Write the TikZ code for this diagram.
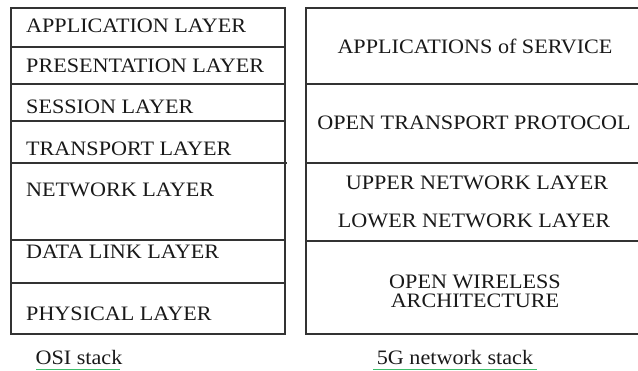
\documentclass[tikz,border=0pt]{standalone}
\usepackage{fontspec}
\setmainfont{Liberation Serif}[FakeStretch=1.08]
\definecolor{rule}{HTML}{333333}
\definecolor{uline}{HTML}{3DBE6A}
\tikzset{
  boxline/.style={draw=rule, line width=1.2pt},
  lefttxt/.style={anchor=west, inner sep=0pt, font=\fontsize{20.5}{24}\selectfont, text=black!90},
  ctrtxt/.style={anchor=center, inner sep=0pt, font=\fontsize{20.5}{24}\selectfont, text=black!90, align=center},
  captxt/.style={anchor=center, inner sep=0pt, font=\fontsize{20.5}{24}\selectfont, text=black!90},
  uln/.style={draw=uline, line width=1.3pt}
}
\begin{document}
\begin{tikzpicture}[x=1pt,y=-1pt]
\useasboundingbox (0,0) rectangle (638,371);
% left box
\draw[boxline] (11,8) rectangle (285,334);
\coordinate (l1a) at (11,47);  \coordinate (l1b) at (285,47);
\coordinate (l2a) at (11,84);  \coordinate (l2b) at (285,84);
\coordinate (l3a) at (11,121); \coordinate (l3b) at (285,121);
\coordinate (l4a) at (11,163); \coordinate (l4b) at (287,163);
\coordinate (l5a) at (11,240); \coordinate (l5b) at (285,240);
\coordinate (l6a) at (11,283); \coordinate (l6b) at (285,283);
\draw[boxline] (l1a) -- (l1b) (l2a) -- (l2b) (l3a) -- (l3b) (l4a) -- (l4b) (l5a) -- (l5b) (l6a) -- (l6b);
\node[lefttxt] (app) at (26,26) {APPLICATION LAYER};
\node[lefttxt] (pres) at (26,66) {PRESENTATION LAYER};
\node[lefttxt] (sess) at (26,107) {SESSION LAYER};
\node[lefttxt] (trans) at (26,149) {TRANSPORT LAYER};
\node[lefttxt] (net) at (26,190) {NETWORK LAYER};
\node[lefttxt] (dl) at (26,252) {DATA LINK LAYER};
\node[lefttxt] (phy) at (26,314) {PHYSICAL LAYER};
% right box (open on the right)
\coordinate (rt) at (638,8);
\coordinate (rtl) at (306,8);
\coordinate (rbl) at (306,334);
\coordinate (rb) at (638,334);
\draw[boxline] (rt) -- (rtl) -- (rbl) -- (rb);
\coordinate (r1a) at (306,84);  \coordinate (r1b) at (638,84);
\coordinate (r2a) at (306,163); \coordinate (r2b) at (638,163);
\coordinate (r3a) at (306,241); \coordinate (r3b) at (638,241);
\draw[boxline] (r1a) -- (r1b) (r2a) -- (r2b) (r3a) -- (r3b);
\node[ctrtxt] (aos) at (475,46) {APPLICATIONS of SERVICE};
\node[ctrtxt] (otp) at (474,123) {OPEN TRANSPORT PROTOCOL};
\node[ctrtxt] (unl) at (477,183) {UPPER NETWORK LAYER};
\node[ctrtxt] (lnl) at (474,221) {LOWER NETWORK LAYER};
\node[ctrtxt] (owa) at (475,291) {OPEN WIRELESS\\[-5pt]ARCHITECTURE};
% captions
\node[captxt] (osi) at (79,357) {OSI stack};
\node[captxt] (fg) at (455,357) {5G network stack};
\coordinate (osiu1) at (36,369.5);  \coordinate (osiu2) at (120,369.5);
\coordinate (fgu1) at (373,369.5);  \coordinate (fgu2) at (537,369.5);
\draw[uln] (osiu1) -- (osiu2);
\draw[uln] (fgu1) -- (fgu2);
\end{tikzpicture}
\end{document}
